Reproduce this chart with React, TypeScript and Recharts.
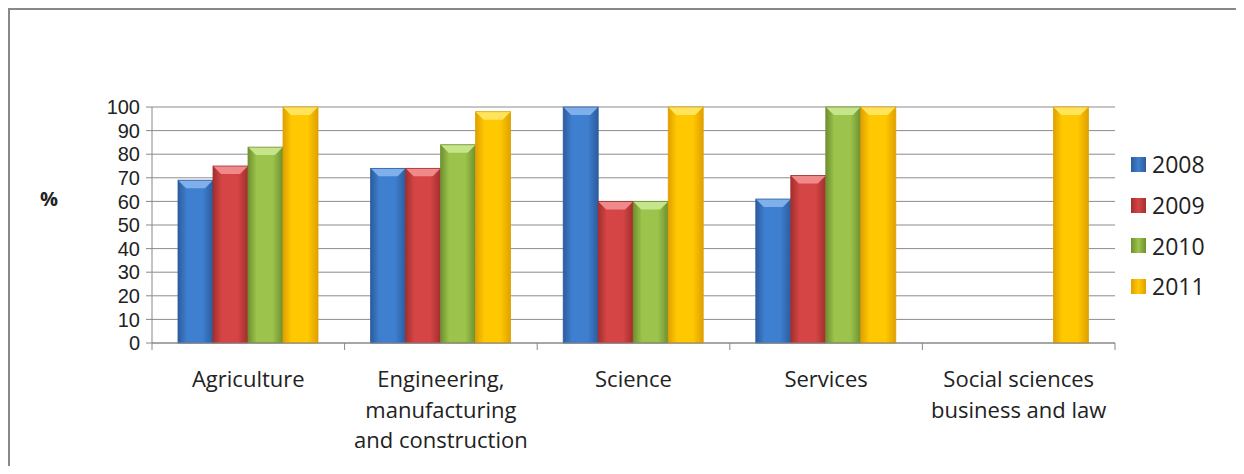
import { BarChart, Bar, XAxis, YAxis, CartesianGrid } from 'recharts';

const categories = [
  'Agriculture',
  'Engineering,\nmanufacturing\nand construction',
  'Science',
  'Services',
  'Social sciences\nbusiness and law',
];
const years = ['2008', '2009', '2010', '2011'];
const v2008 = [69, 74, 100, 61, null];
const v2009 = [75, 74, 60, 71, null];
const v2010 = [83, 84, 60, 100, null];
const v2011 = [100, 98, 100, 100, 100];
const yTicks = [0, 10, 20, 30, 40, 50, 60, 70, 80, 90, 100];

const series = [v2008, v2009, v2010, v2011];
const COLORS = [
  { mid: '#3f7fcf', edge: '#2b5c9e', top: '#7fb0ec' },
  { mid: '#d64545', edge: '#a32e2e', top: '#f08a8a' },
  { mid: '#9cc44c', edge: '#6e9030', top: '#c6e48a' },
  { mid: '#ffc800', edge: '#e0a000', top: '#ffe45c' },
];

const data = categories.map((name, i) => {
  const row: Record<string, any> = { name };
  years.forEach((y, s) => (row[y] = series[s][i]));
  return row;
});

const W = 1226;
const H = 456;
const MARGIN = { top: 97, right: 121, bottom: 0, left: 0 };
const Y_W = 142;
const BAND = (W - MARGIN.left - MARGIN.right - Y_W) / categories.length;
const FONT = '"Open Sans", sans-serif';

function BevelBar(props: any) {
  const { x, y, width, height } = props;
  if (!height || height <= 0) return null;
  const c = COLORS[props.sIdx];
  const b = Math.min(8, width / 4);
  return (
    <g>
      <rect x={x} y={y} width={width} height={height} fill={`url(#grad${props.sIdx})`} />
      <polygon
        points={`${x},${y} ${x + width},${y} ${x + width - b},${y + b} ${x + b},${y + b}`}
        fill={c.top}
      />
      <rect x={x} y={y} width={width} height={height} fill="none" stroke={c.edge} strokeWidth={0.8} />
    </g>
  );
}

function CatTick(props: any) {
  const { x, y, payload, index } = props;
  const lines = String(payload.value).split('\n');
  return (
    <g>
      <line x1={x - BAND / 2} y1={y} x2={x - BAND / 2} y2={y + 7} stroke="#888" />
      {index === categories.length - 1 && (
        <line x1={x + BAND / 2} y1={y} x2={x + BAND / 2} y2={y + 7} stroke="#888" />
      )}
      <text x={x} y={y + 44} textAnchor="middle" fontSize={22} fontFamily={FONT} fill="#222">
        {lines.map((l, i) => (
          <tspan key={i} x={x} dy={i === 0 ? 0 : 30.5}>
            {l}
          </tspan>
        ))}
      </text>
    </g>
  );
}

function LegendBox() {
  return (
    <div style={{ position: 'absolute', left: 1121, top: 134, display: 'flex', flexDirection: 'column' }}>
      {years.map((y, i) => (
        <div key={y} style={{ display: 'flex', alignItems: 'center', height: 40.7 }}>
          <span
            style={{
              width: 15,
              height: 15,
              marginRight: 6,
              background: `linear-gradient(90deg, ${COLORS[i].edge}, ${COLORS[i].mid}, ${COLORS[i].edge})`,
            }}
          />
          <span style={{ fontSize: 23, fontFamily: FONT, color: '#222' }}>{y}</span>
        </div>
      ))}
    </div>
  );
}

export default function App() {
  return (
    <div
      style={{
        position: 'relative',
        width: W,
        height: H,
        borderTop: '2px solid #888',
        borderLeft: '2px solid #888',
        background: '#fff',
      }}
    >
      <div
        style={{
          position: 'absolute',
          left: 30,
          top: 175,
          fontFamily: FONT,
          fontWeight: 700,
          fontSize: 20,
          color: '#222',
        }}
      >
        %
      </div>
      <LegendBox />
      <BarChart width={W} height={H} data={data} margin={MARGIN} barCategoryGap={26} barGap={0}>
        <defs>
          {COLORS.map((c, i) => (
            <linearGradient key={i} id={`grad${i}`} x1="0" y1="0" x2="1" y2="0">
              <stop offset="0%" stopColor={c.edge} />
              <stop offset="25%" stopColor={c.mid} />
              <stop offset="70%" stopColor={c.mid} />
              <stop offset="100%" stopColor={c.edge} />
            </linearGradient>
          ))}
        </defs>
        <CartesianGrid vertical={false} stroke="#8c8c8c" />
        <XAxis
          dataKey="name"
          interval={0}
          height={H - 333}
          tickLine={false}
          tickSize={0}
          tickMargin={0}
          axisLine={{ stroke: '#888' }}
          tick={<CatTick />}
        />
        <YAxis
          width={Y_W}
          domain={[0, 100]}
          ticks={yTicks}
          interval={0}
          tickSize={6}
          tickMargin={6}
          axisLine={{ stroke: '#888' }}
          tickLine={{ stroke: '#888' }}
          tick={{ fontSize: 20, fontFamily: '"Liberation Sans", Arial, sans-serif', fill: '#222' }}
        />
        {years.map((y, i) => (
          <Bar key={y} dataKey={y} isAnimationActive={false} shape={(p: any) => <BevelBar {...p} sIdx={i} />} />
        ))}
      </BarChart>
    </div>
  );
}
